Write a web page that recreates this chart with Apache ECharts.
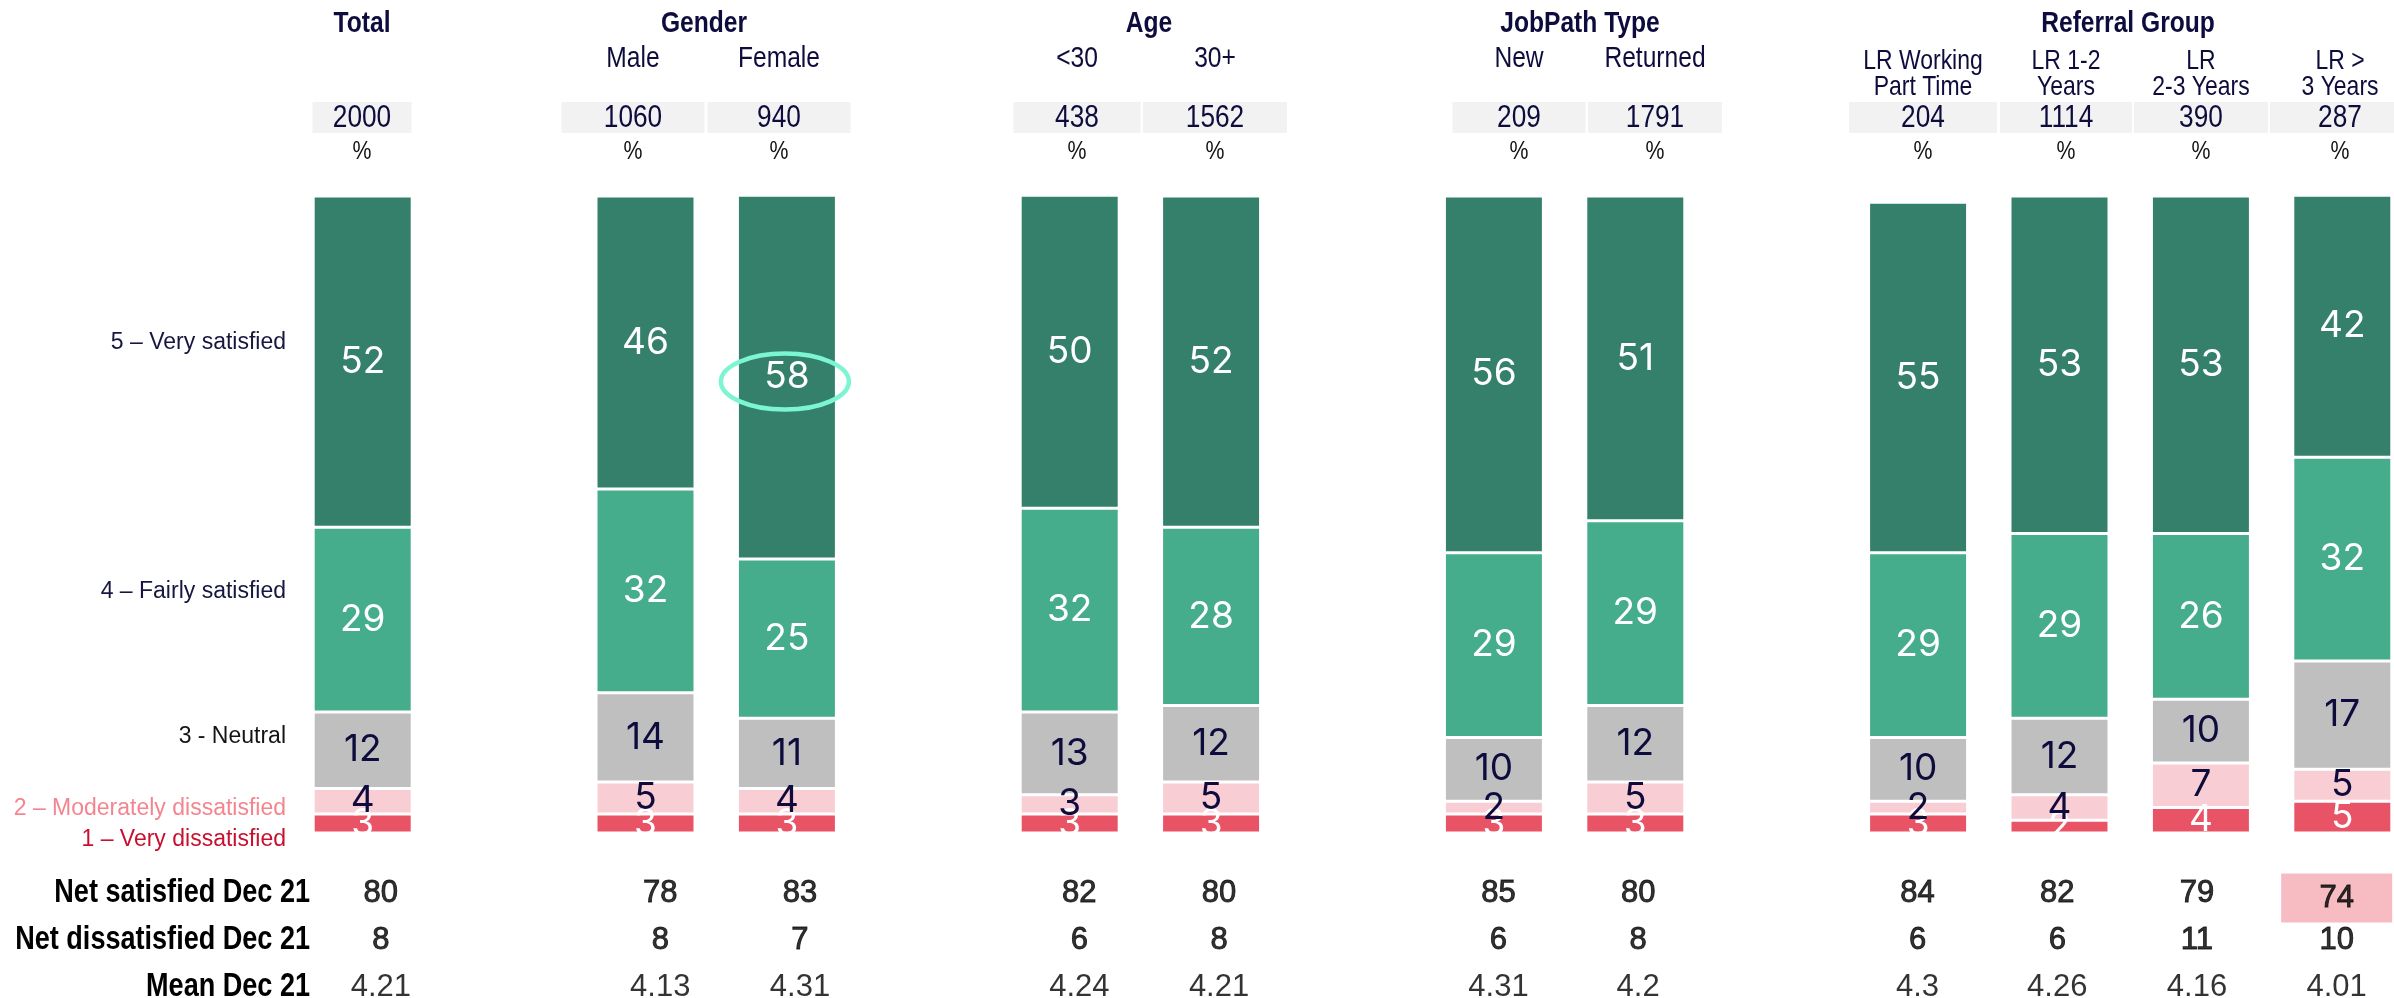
<!DOCTYPE html>
<html>
<head>
<meta charset="utf-8">
<script src="https://cdn.jsdelivr.net/npm/echarts@6/dist/echarts.min.js"></script>
<style>
  html, body { margin: 0; padding: 0; background: #fff; }
  #chart { width: 2394px; height: 998px; }
</style>
</head>
<body>
<div id="chart"></div>
<script>
// groups and columns
const groupNames = ['Total', 'Gender', 'Age', 'JobPath Type', 'Referral Group'];
const groupSizes = [1, 2, 2, 2, 4];
const columnNames = ['', 'Male', 'Female', '<30', '30+', 'New', 'Returned',
  'LR Working\nPart Time', 'LR 1-2\nYears', 'LR\n2-3 Years', 'LR >\n3 Years'];
const sampleSizes = [2000, 1060, 940, 438, 1562, 209, 1791, 204, 1114, 390, 287];

// answer levels, bottom to top
const levelNames = ['1 – Very dissatisfied', '2 – Moderately dissatisfied', '3 - Neutral',
  '4 – Fairly satisfied', '5 – Very satisfied'];
const veryDissatisfied = [3, 3, 3, 3, 3, 3, 3, 3, 2, 4, 5];
const moderatelyDissatisfied = [4, 5, 4, 3, 5, 2, 5, 2, 4, 7, 5];
const neutral = [12, 14, 11, 13, 12, 10, 12, 10, 12, 10, 17];
const fairlySatisfied = [29, 32, 25, 32, 28, 29, 29, 29, 29, 26, 32];
const verySatisfied = [52, 46, 58, 50, 52, 56, 51, 55, 53, 53, 42];

// summary rows
const rowNames = ['Net satisfied Dec 21', 'Net dissatisfied Dec 21', 'Mean Dec 21'];
const netSatisfied = [80, 78, 83, 82, 80, 85, 80, 84, 82, 79, 74];
const netDissatisfied = [8, 8, 7, 6, 8, 6, 8, 6, 6, 11, 10];
const meanScore = ['4.21', '4.13', '4.31', '4.24', '4.21', '4.31', '4.2', '4.3', '4.26', '4.16', '4.01'];

const circledColumn = 2;      // Female, very satisfied
const highlightedNetSat = 10; // LR > 3 Years

// ---- layout / styles ----
const NAVY = '#0e0c3d';
const SANS = '"Liberation Sans", Arial, sans-serif';
const NARROW = 0.82; // horizontal squeeze to get an Arial Narrow look
const levelColors = ['#e95366', '#f8ced4', '#bfbfbf', '#45ad8b', '#34806a'];
const labelColors = ['#fff', NAVY, NAVY, '#fff', '#fff'];
const legendColors = ['#c8102e', '#f4858f', '#141414', '#16163f', '#16163f'];
const legendY = [840, 809, 737, 592, 343];

const titleX = [362, 704, 1149, 1580, 2128];
const headerX = [362, 633, 779, 1077, 1215, 1519, 1655, 1923, 2066, 2201, 2340];
const boxW = [99, 143, 143, 127, 144, 133, 134, 148, 132, 134, 140];

// map columns to slots with an empty slot between groups
const slotOf = [];
let s = 0;
groupSizes.forEach(n => { for (let i = 0; i < n; i++) slotOf.push(s++); s++; });
const slotCount = s - 1;
const slotNames = Array.from({ length: slotCount }, (_, i) => {
  const c = slotOf.indexOf(i);
  return c < 0 ? 'gap' + i : 'col' + c;
});
const toSlots = arr => {
  const out = Array(slotCount).fill('-');
  arr.forEach((v, i) => { out[slotOf[i]] = v; });
  return out;
};

const levelValues = [veryDissatisfied, moderatelyDissatisfied, neutral, fairlySatisfied, verySatisfied];
const rowValues = [netSatisfied, netDissatisfied, meanScore];

const myChart = echarts.init(document.getElementById('chart'), null, { renderer: 'canvas' });

const barSeries = levelValues.map((vals, i) => ({
  name: levelNames[i],
  type: 'bar',
  stack: 'total',
  xAxisIndex: 0,
  yAxisIndex: 0,
  barWidth: 99,
  data: toSlots(vals),
  itemStyle: { color: levelColors[i], borderColor: '#fff', borderWidth: 1.5 },
  label: {
    show: true,
    position: 'inside',
    color: labelColors[i],
    fontFamily: 'Inter, ' + SANS,
    fontSize: 37
  },
  emphasis: { disabled: true }
}));

const tableSeries = rowValues.map((vals, r) => ({
  name: rowNames[r],
  type: 'scatter',
  xAxisIndex: 1,
  yAxisIndex: 1,
  symbolSize: 1,
  itemStyle: { color: 'rgba(0,0,0,0)' },
  data: vals.map((v, i) => {
    const item = { value: [slotOf[i], r], name: String(v) };
    if (r === 0 && i === highlightedNetSat) {
      item.label = {
        backgroundColor: '#f4abb3', width: 111, height: 39, lineHeight: 39,
        padding: [0, 0, 10, 0], offset: [0, 5], align: 'center'
      };
    }
    return item;
  }),
  label: {
    show: true,
    position: 'inside',
    formatter: '{b}',
    color: '#000',
    fontFamily: SANS,
    fontSize: 31,
    textBorderColor: '#000',
    textBorderWidth: r < 2 ? 0.9 : 0
  },
  emphasis: { disabled: true }
}));

const hiddenAxis = { axisLine: { show: false }, axisTick: { show: false }, axisLabel: { show: false }, splitLine: { show: false } };

myChart.setOption({
  animation: false,
  backgroundColor: '#fff',
  grid: [
    { left: 292, top: 196, width: 2121, height: 637, outerBoundsMode: 'none' },
    { left: 311, top: 869.5, width: 2095.5, height: 141, outerBoundsMode: 'none' }
  ],
  xAxis: [
    Object.assign({ type: 'category', gridIndex: 0, data: slotNames }, hiddenAxis),
    Object.assign({ type: 'category', gridIndex: 1, data: slotNames }, hiddenAxis)
  ],
  yAxis: [
    Object.assign({ type: 'value', gridIndex: 0, min: 0, max: 100 }, hiddenAxis),
    Object.assign({ type: 'category', gridIndex: 1, data: rowNames, inverse: true }, hiddenAxis)
  ],
  series: barSeries.concat(tableSeries)
});

// header, row names, legend labels and the circle
const elements = [];
const txt = (text, x, y, font, fill, opts) => {
  opts = opts || {};
  elements.push({
    type: 'text', x, y, silent: true,
    scaleX: opts.scaleX || 1,
    style: Object.assign({ text, font, fill, align: opts.align || 'center', verticalAlign: 'middle' },
      opts.lineHeight ? { lineHeight: opts.lineHeight } : {})
  });
};

groupNames.forEach((g, i) => txt(g, titleX[i], 24, 'bold 30px ' + SANS, NAVY, { scaleX: NARROW }));
columnNames.forEach((c, i) => {
  if (!c) return;
  if (c.indexOf('\n') >= 0) {
    txt(c, headerX[i], 74, '28px ' + SANS, NAVY, { scaleX: NARROW, lineHeight: 26 });
  } else {
    txt(c, headerX[i], 59, '30px ' + SANS, NAVY, { scaleX: NARROW });
  }
});
sampleSizes.forEach((n, i) => {
  elements.push({
    type: 'rect', silent: true,
    shape: { x: headerX[i] - boxW[i] / 2, y: 102, width: boxW[i], height: 31 },
    style: { fill: '#f2f2f2' }
  });
  txt(String(n), headerX[i], 118, '32px ' + SANS, NAVY, { scaleX: NARROW });
  txt('%', headerX[i], 152, '26px ' + SANS, '#111', { scaleX: NARROW });
});
levelNames.forEach((l, i) => txt(l, 286, legendY[i], '23px ' + SANS, legendColors[i], { align: 'right' }));

rowNames.forEach(name => {
  const y = myChart.convertToPixel({ yAxisIndex: 1 }, name);
  txt(name, 310, y, 'bold 33px ' + SANS, '#000', { align: 'right', scaleX: NARROW });
});

const belowSum = levelValues.slice(0, 4).reduce((a, arr) => a + arr[circledColumn], 0);
const topSum = Math.min(100, belowSum + verySatisfied[circledColumn]);
const [cx, cy] = myChart.convertToPixel({ gridIndex: 0 }, [slotOf[circledColumn], (belowSum + topSum) / 2]);
elements.push({
  type: 'ellipse', silent: true, z: 100,
  shape: { cx: cx - 2, cy: cy + 4, rx: 64, ry: 28 },
  style: { fill: 'none', stroke: '#7cf5d2', lineWidth: 4.5 }
});

myChart.setOption({ graphic: { elements } });
</script>
</body>
</html>
